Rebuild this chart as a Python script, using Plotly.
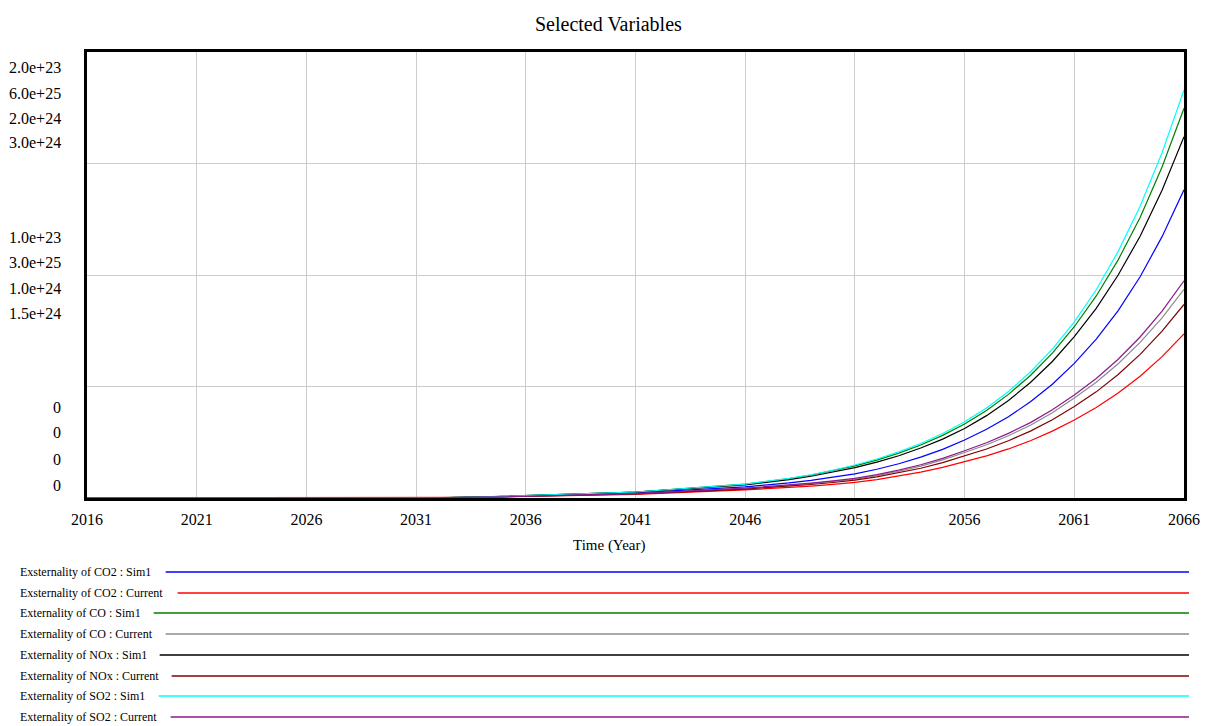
import plotly.graph_objects as go

# ---- data (values as % of the chart's vertical span) ----
years = [2016, 2021, 2026, 2031, 2034, 2036, 2041,
         2046, 2047, 2048, 2049, 2050, 2051, 2052, 2053, 2054, 2055, 2056,
         2057, 2058, 2059, 2060, 2061, 2062, 2063, 2064, 2065, 2066]

co2_sim1 = [0, 0, 0, 0, 0.2, 0.5, 1.15,
            2.5, 2.92, 3.4, 3.96, 4.62, 5.4, 6.44, 7.67, 9.15, 10.9, 13.0,
            15.4, 18.2, 21.6, 25.5, 30.2, 35.6, 42.0, 49.6, 58.6, 69.1]
co2_current = [0, 0, 0, 0, 0.15, 0.38, 0.8,
               1.8, 2.06, 2.35, 2.68, 3.06, 3.5, 4.14, 4.9, 5.8, 6.85, 8.1,
               9.45, 11.0, 12.85, 15.0, 17.5, 20.3, 23.55, 27.3, 31.7, 36.8]
co_sim1 = [0, 0, 0, 0, 0.25, 0.6, 1.35,
           3.1, 3.67, 4.35, 5.15, 6.09, 7.2, 8.51, 10.06, 11.89, 14.05, 16.6,
           19.64, 23.23, 27.48, 32.5, 38.4, 45.3, 53.4, 62.9, 74.2, 87.4]
co_current = [0, 0, 0, 0, 0.18, 0.45, 0.95,
              2.1, 2.41, 2.77, 3.19, 3.66, 4.2, 5.01, 5.99, 7.15, 8.54, 10.2,
              11.93, 13.96, 16.33, 19.1, 22.4, 25.96, 30.1, 34.9, 40.4, 46.8]
nox_sim1 = [0, 0, 0, 0, 0.22, 0.55, 1.3,
            2.95, 3.49, 4.12, 4.87, 5.76, 6.8, 8.03, 9.48, 11.2, 13.2, 15.6,
            18.47, 21.87, 25.9, 30.6, 36.2, 42.5, 50.0, 58.7, 69.0, 81.0]
nox_current = [0, 0, 0, 0, 0.17, 0.42, 0.9,
               2.0, 2.3, 2.64, 3.03, 3.48, 4.0, 4.74, 5.63, 6.67, 7.92, 9.4,
               10.99, 12.85, 15.0, 17.55, 20.5, 23.8, 27.7, 32.2, 37.4, 43.4]
so2_sim1 = [0, 0, 0, 0, 0.22, 0.55, 1.35,
            3.1, 3.69, 4.39, 5.22, 6.22, 7.4, 8.75, 10.34, 12.22, 14.45, 17.1,
            20.2, 23.9, 28.25, 33.4, 39.5, 46.7, 55.3, 65.4, 77.4, 91.5]
so2_current = [0, 0, 0, 0, 0.18, 0.45, 1.0,
               2.2, 2.53, 2.9, 3.34, 3.83, 4.4, 5.25, 6.25, 7.45, 8.89, 10.6,
               12.4, 14.5, 16.9, 19.8, 23.1, 26.8, 31.1, 36.1, 41.9, 48.7]

series_names = ["Exsternality of CO2 : Sim1", "Exsternality of CO2 : Current",
                "Externality of CO : Sim1", "Externality of CO : Current",
                "Externality of NOx : Sim1", "Externality of NOx : Current",
                "Externality of SO2 : Sim1", "Externality of SO2 : Current"]
series_values = [co2_sim1, co2_current, co_sim1, co_current,
                 nox_sim1, nox_current, so2_sim1, so2_current]
series_colors = ["#0000FF", "#FF0000", "#007F00", "#8C8C8C",
                 "#000000", "#800000", "#00FFFF", "#8B1A8B"]

x_ticks = [2016, 2021, 2026, 2031, 2036, 2041, 2046, 2051, 2056, 2061, 2066]

# y-axis labels (Vensim multi-scale labels), position as % of vertical span
y_label_texts = ["2.0e+23", "6.0e+25", "2.0e+24", "3.0e+24",
                 "1.0e+23", "3.0e+25", "1.0e+24", "1.5e+24",
                 "0", "0", "0", "0"]
y_label_pos = [96.6, 90.8, 85.2, 79.6,
               58.5, 52.7, 46.9, 41.3,
               20.4, 14.6, 8.7, 2.9]

# ---- figure ----
W, H = 1212, 726
L, R, T, B = 87, 1189, 52, 498
FONT = "Liberation Serif, Times New Roman, serif"

fig = go.Figure()
for name, vals, col in zip(series_names, series_values, series_colors):
    fig.add_trace(go.Scatter(x=years, y=vals, mode="lines", name=name,
                             line=dict(color=col, width=1.2)))

fig.update_layout(
    width=W, height=H,
    margin=dict(l=L, r=W - R, t=T, b=H - B, pad=0),
    paper_bgcolor="white", plot_bgcolor="white",
    showlegend=False,
    font=dict(family=FONT, color="black"),
)
fig.update_xaxes(range=[2016, 2066], tickvals=x_ticks,
                 ticktext=[str(v) for v in x_ticks],
                 showgrid=True, gridcolor="#CDCDCD", gridwidth=1,
                 showline=True, linecolor="black", linewidth=3, mirror=True,
                 ticks="", ticklabelstandoff=5,
                 tickfont=dict(family=FONT, size=16, color="black"),
                 zeroline=False)
fig.update_yaxes(range=[0, 100], tickvals=[25, 50, 75],
                 showticklabels=False,
                 showgrid=True, gridcolor="#CDCDCD", gridwidth=1,
                 showline=True, linecolor="black", linewidth=3, mirror=True,
                 ticks="", zeroline=False)

ann = []
ann.append(dict(text="Selected Variables", xref="paper", yref="paper",
                x=(611 - L) / (R - L), y=(B - 24) / (B - T),
                xanchor="center", yanchor="middle", showarrow=False,
                font=dict(family=FONT, size=20, color="black")))
ann.append(dict(text="Time (Year)", xref="paper", yref="paper",
                x=(612 - L) / (R - L), y=(B - 545) / (B - T),
                xanchor="center", yanchor="middle", showarrow=False,
                font=dict(family=FONT, size=15, color="black")))
for t, p in zip(y_label_texts, y_label_pos):
    ann.append(dict(text=t, xref="paper", yref="y",
                    x=(63 - L) / (R - L), y=p,
                    xanchor="right", yanchor="middle", showarrow=False,
                    font=dict(family=FONT, size=16, color="black")))

legend_y = [572, 593, 613, 634, 655, 676, 696, 717]
legend_x0 = [166, 178, 154, 166, 160, 172, 159, 171]
shapes = []
for name, col, ly, lx in zip(series_names, series_colors, legend_y, legend_x0):
    yp = (B - ly) / (B - T)
    ann.append(dict(text=name, xref="paper", yref="paper",
                    x=(18 - L) / (R - L), y=yp,
                    xanchor="left", yanchor="middle", showarrow=False,
                    font=dict(family=FONT, size=12, color="black")))
    shapes.append(dict(type="line", xref="paper", yref="paper",
                       x0=(lx - L) / (R - L), x1=(1194 - L) / (R - L),
                       y0=yp, y1=yp, line=dict(color=col, width=1.5)))

fig.update_layout(annotations=ann, shapes=shapes)
fig.write_html("out.html")
